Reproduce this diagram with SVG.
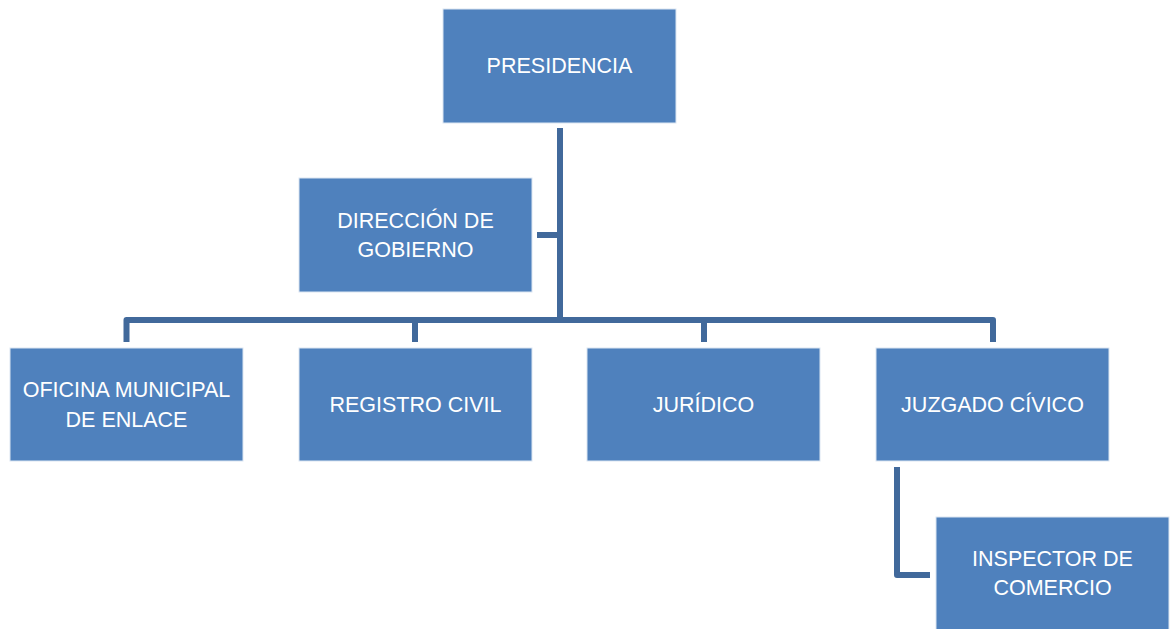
<svg xmlns="http://www.w3.org/2000/svg" width="1173" height="629" viewBox="0 0 1173 629">
<style>
.box{fill:#4f81bd;stroke:#dce6f2;stroke-width:1}
.lbl{font-family:"Liberation Sans",Arial,sans-serif;font-size:21.5px;fill:#ffffff;text-anchor:middle}
.con{fill:none;stroke:#41699b;stroke-width:6;stroke-linejoin:round}
</style>
<rect width="1173" height="629" fill="#ffffff"/>
<g id="connectors">
<path class="con" d="M560,128 V320"/>
<path class="con" d="M537,235 H560"/>
<path class="con" d="M126.5,342 V320 H993 V342"/>
<path class="con" d="M415,320 V342"/>
<path class="con" d="M704,320 V342"/>
<path class="con" d="M897,467 V575 H930"/>
</g>
<g id="presidencia">
<rect class="box" x="443" y="9" width="233" height="114"/>
<text class="lbl" x="559.5" y="73">PRESIDENCIA</text>
</g>
<g id="direccion">
<rect class="box" x="299" y="178" width="233" height="114"/>
<text class="lbl" x="415.5" y="228">DIRECCIÓN DE</text>
<text class="lbl" x="415.5" y="257">GOBIERNO</text>
</g>
<g id="oficina">
<rect class="box" x="10" y="348" width="233" height="113"/>
<text class="lbl" x="126.5" y="397">OFICINA MUNICIPAL</text>
<text class="lbl" x="126.5" y="427">DE ENLACE</text>
</g>
<g id="registro">
<rect class="box" x="299" y="348" width="233" height="113"/>
<text class="lbl" x="415.5" y="412">REGISTRO CIVIL</text>
</g>
<g id="juridico">
<rect class="box" x="587" y="348" width="233" height="113"/>
<text class="lbl" x="703.5" y="412">JURÍDICO</text>
</g>
<g id="juzgado">
<rect class="box" x="876" y="348" width="233" height="113"/>
<text class="lbl" x="992.5" y="412">JUZGADO CÍVICO</text>
</g>
<g id="inspector">
<rect class="box" x="936" y="517" width="233" height="114"/>
<text class="lbl" x="1052.5" y="566">INSPECTOR DE</text>
<text class="lbl" x="1052.5" y="595">COMERCIO</text>
</g>
</svg>
